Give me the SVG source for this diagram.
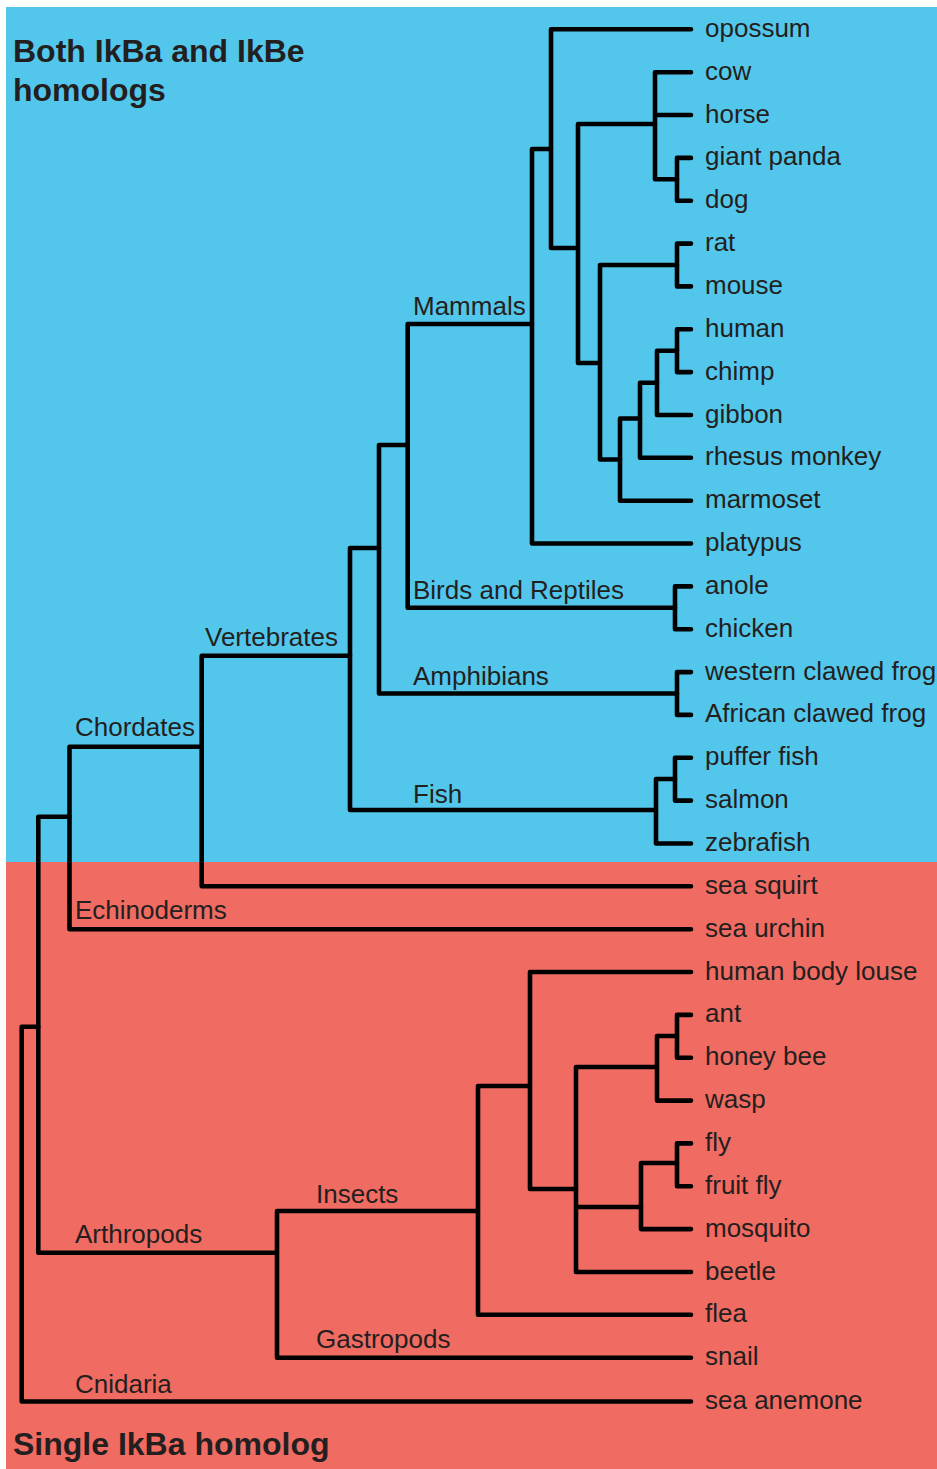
<svg xmlns="http://www.w3.org/2000/svg" width="937" height="1469" viewBox="0 0 937 1469">
<style>
.e{fill:none;stroke:#000;stroke-width:4.6;stroke-linecap:round;stroke-linejoin:round}
.t{font-family:"Liberation Sans",Arial,sans-serif;font-size:26px;fill:#231F20}
.h{font-family:"Liberation Sans",Arial,sans-serif;font-size:32px;font-weight:bold;fill:#231F20}
</style>
<rect id="zone-both" x="6" y="7" width="931" height="855" fill="#53C7EB"/>
<rect id="zone-single" x="6" y="862" width="931" height="607" fill="#F06B61"/>
<g id="titles">
<text class="h" x="13" y="62">Both IkBa and IkBe</text>
<text class="h" x="13" y="100.5">homologs</text>
<text class="h" x="13" y="1455">Single IkBa homolog</text>
</g>
<g id="connectors" class="e">
<!-- mammals -->
<path d="M677 179.3V157.9H691M677 179.3V200.7H691"/>
<path d="M655 124V72.2H691M655 124V115H691M655 124V179.3H677"/>
<path d="M677 265V243.6H691M677 265V286.4H691"/>
<path d="M677 350.7V329.3H691M677 350.7V372.1H691"/>
<path d="M657 382.8V350.7H677M657 382.8V415H691"/>
<path d="M640 418.5V382.8H657M640 418.5V457.8H691"/>
<path d="M620 459.5V418.5H640M620 459.5V500.7H691"/>
<path d="M600 363V265H677M600 363V459.5H620"/>
<path d="M578 248V124H655M578 248V363H600"/>
<path d="M551 149V29.3H691M551 149V248H578"/>
<path d="M532 324V149H551M532 324V543.5H691"/>
<!-- birds, amphibians, fish -->
<path d="M675 607.8V586.4H691M675 607.8V629.2H691"/>
<path d="M677 693.5V672.1H691M677 693.5V714.9H691"/>
<path d="M675 779V757.8H691M675 779V800.6H691"/>
<path d="M656 810V779H675M656 810V843.5H691"/>
<path d="M407.7 445V324H532M407.7 445V607.8H675"/>
<path d="M379 548V445H407.7M379 548V693.5H677"/>
<path d="M350 655.7V548H379M350 655.7V810H656"/>
<path d="M201.7 746.7V655.7H350M201.7 746.7V886.3H691"/>
<path d="M69.5 816.7V746.7H201.7M69.5 816.7V929.2H691"/>
<!-- insects -->
<path d="M677 1036V1014.9H691M677 1036V1057.7H691"/>
<path d="M657 1067V1036H677M657 1067V1100.6H691"/>
<path d="M677 1163V1143.4H691M677 1163V1186.3H691"/>
<path d="M641 1207V1163H677M641 1207V1229.1H691"/>
<path d="M576 1189V1067H657M576 1189V1207H641M576 1189V1272H691"/>
<path d="M530 1086V972H691M530 1086V1189H576"/>
<path d="M478 1211V1086H530M478 1211V1314.8H691"/>
<path d="M277 1252.7V1211H478M277 1252.7V1357.7H691"/>
<path d="M38.3 1026.7V816.7H69.5M38.3 1026.7V1252.7H277"/>
<path d="M21.7 1026.7H38.3M21.7 1026.7V1401.5H691"/>
</g>
<g id="clade-labels" class="t">
<text x="413" y="315">Mammals</text>
<text x="413" y="598.5">Birds and Reptiles</text>
<text x="413" y="685">Amphibians</text>
<text x="413" y="803">Fish</text>
<text x="205" y="646">Vertebrates</text>
<text x="75" y="736">Chordates</text>
<text x="75" y="919">Echinoderms</text>
<text x="75" y="1243">Arthropods</text>
<text x="316" y="1203">Insects</text>
<text x="316" y="1348">Gastropods</text>
<text x="75" y="1393">Cnidaria</text>
</g>
<g id="leaves" class="t">
<text id="opossum" x="705" y="36.8">opossum</text>
<text id="cow" x="705" y="79.7">cow</text>
<text id="horse" x="705" y="122.5">horse</text>
<text id="giant-panda" x="705" y="165.4">giant panda</text>
<text id="dog" x="705" y="208.2">dog</text>
<text id="rat" x="705" y="251.1">rat</text>
<text id="mouse" x="705" y="293.9">mouse</text>
<text id="human" x="705" y="336.8">human</text>
<text id="chimp" x="705" y="379.6">chimp</text>
<text id="gibbon" x="705" y="422.5">gibbon</text>
<text id="rhesus-monkey" x="705" y="465.3">rhesus monkey</text>
<text id="marmoset" x="705" y="508.2">marmoset</text>
<text id="platypus" x="705" y="551">platypus</text>
<text id="anole" x="705" y="593.9">anole</text>
<text id="chicken" x="705" y="636.7">chicken</text>
<text id="western-clawed-frog" x="705" y="679.6">western clawed frog</text>
<text id="african-clawed-frog" x="705" y="722.4">African clawed frog</text>
<text id="puffer-fish" x="705" y="765.3">puffer fish</text>
<text id="salmon" x="705" y="808.1">salmon</text>
<text id="zebrafish" x="705" y="851">zebrafish</text>
<text id="sea-squirt" x="705" y="893.8">sea squirt</text>
<text id="sea-urchin" x="705" y="936.7">sea urchin</text>
<text id="human-body-louse" x="705" y="979.5">human body louse</text>
<text id="ant" x="705" y="1022.4">ant</text>
<text id="honey-bee" x="705" y="1065.2">honey bee</text>
<text id="wasp" x="705" y="1108.1">wasp</text>
<text id="fly" x="705" y="1150.9">fly</text>
<text id="fruit-fly" x="705" y="1193.8">fruit fly</text>
<text id="mosquito" x="705" y="1236.6">mosquito</text>
<text id="beetle" x="705" y="1279.5">beetle</text>
<text id="flea" x="705" y="1322.3">flea</text>
<text id="snail" x="705" y="1365.2">snail</text>
<text id="sea-anemone" x="705" y="1408.5">sea anemone</text>
</g>
</svg>
